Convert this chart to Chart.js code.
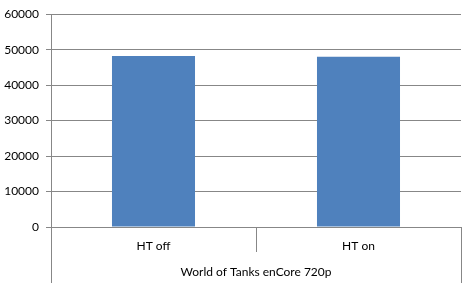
<!DOCTYPE html>
<html>
<head>
<meta charset="utf-8">
<script src="https://cdn.jsdelivr.net/npm/chart.js@4"></script>
<style>
html,body{margin:0;padding:0;background:#fff;}
#wrap{width:463px;height:283px;}
</style>
</head>
<body>
<div id="wrap"><canvas id="chart"></canvas></div>
<script>
// data
const categories = ["HT off", "HT on"];
const groupLabel = ["World of Tanks enCore 720p"];
const scores = [48200, 48000];
const yTicks = [0, 10000, 20000, 30000, 40000, 50000, 60000];

const gridGray = "#878787";
const tickFont = {family: "Lato", size: 12};

new Chart(document.getElementById("chart"), {
  type: "bar",
  data: {
    labels: categories,
    datasets: [{
      label: "Score",
      data: scores,
      backgroundColor: "#4F81BD",
      barPercentage: 0.405,
      categoryPercentage: 1
    }]
  },
  options: {
    responsive: true,
    maintainAspectRatio: false,
    animation: false,
    layout: {padding: {top: 5, right: 2, bottom: 0, left: 0}},
    plugins: {legend: {display: false}, tooltip: {enabled: false}},
    scales: {
      y: {
        min: yTicks[0],
        max: yTicks[yTicks.length - 1],
        afterBuildTicks: s => { s.ticks = yTicks.map(v => ({value: v})); },
        afterFit: s => { s.width = 51; },
        grid: {color: gridGray, tickLength: 5, lineWidth: 1},
        border: {color: gridGray},
        ticks: {color: "#000", padding: 7, font: tickFont, callback: v => String(v)}
      },
      x: {
        position: "bottom",
        afterFit: s => { s.height = 25; },
        grid: {offset: true, drawOnChartArea: false, color: gridGray, tickLength: 25},
        border: {color: gridGray},
        ticks: {color: "#000", padding: -13, font: tickFont, autoSkip: false, maxRotation: 0}
      },
      x2: {
        type: "category",
        position: "bottom",
        labels: groupLabel,
        offset: true,
        afterFit: s => { s.height = 31; },
        grid: {offset: true, drawOnChartArea: false, color: gridGray, tickLength: 31},
        border: {display: false},
        ticks: {color: "#000", padding: -18, font: tickFont, autoSkip: false, maxRotation: 0}
      }
    }
  }
});
</script>
</body>
</html>
